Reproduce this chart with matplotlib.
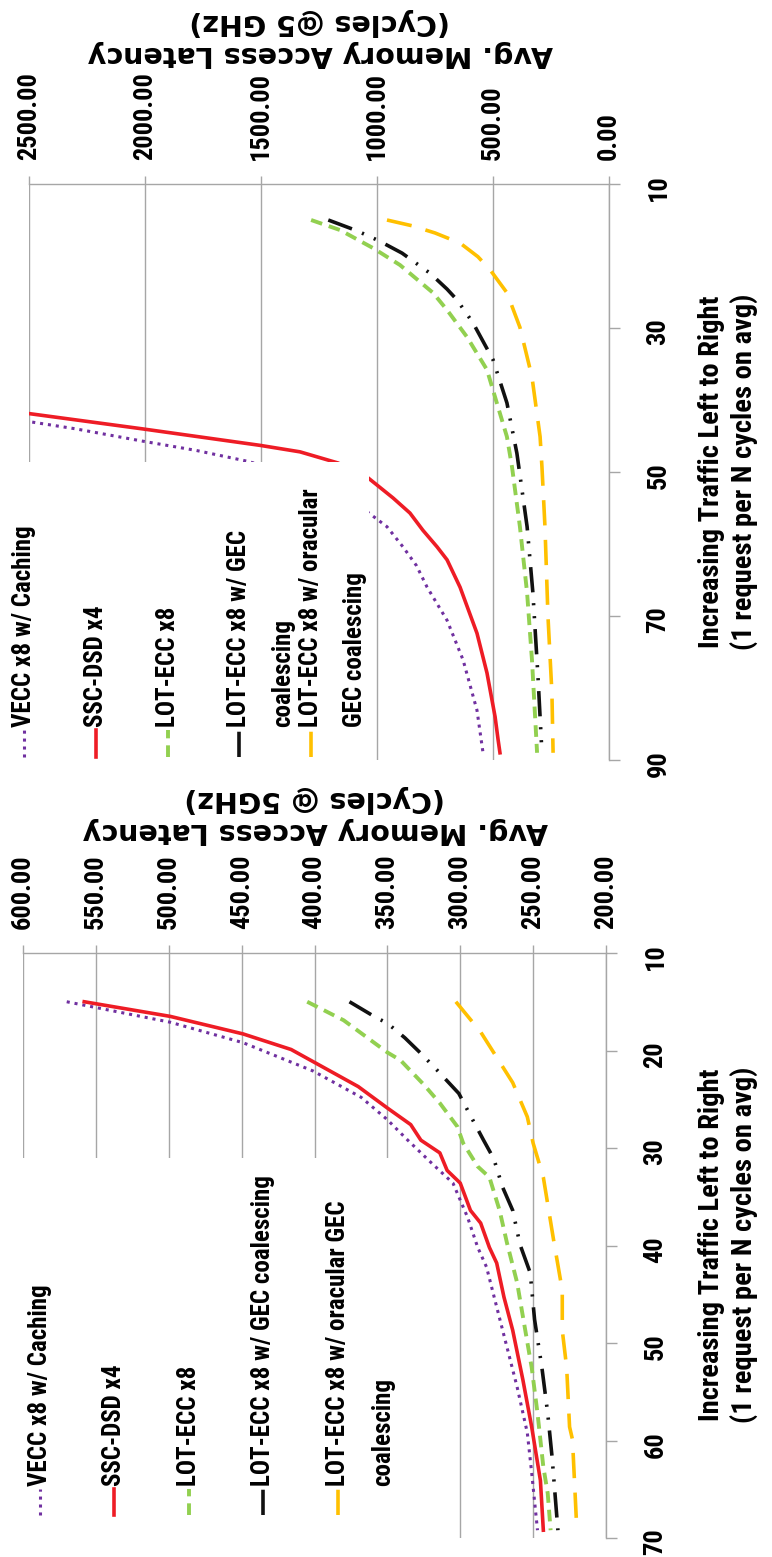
import matplotlib
matplotlib.use("Agg")
import matplotlib.pyplot as plt
from matplotlib.lines import Line2D
from matplotlib.patches import Rectangle

W, H = 772, 1557

# --- upper chart: latency in cycles @5 GHz vs traffic (1 request per N cycles) ---
top_vecc_n = [42.9, 44.0, 45.7, 47.0, 48.5, 50.5, 53.0, 55.6, 57.6, 60.4, 63.0, 66.0, 70.6, 76.1, 83.1, 89.0]
top_vecc = [2520, 2300, 2013, 1780, 1560, 1330, 1150, 1039, 957, 888, 830, 784, 698, 629, 569, 543]

top_ssc_n = [41.8, 44.0, 46.3, 47.2, 48.75, 50.8, 53.6, 55.7, 58.1, 60.4, 62.2, 66.0, 72.4, 77.9, 84.0, 87.2, 89.0]
top_ssc = [2520, 2013, 1504, 1332, 1168, 1039, 931, 858, 802, 741, 698, 642, 569, 526, 491, 478, 470]

top_lot_n = [15.0, 16.4, 18.9, 21.25, 25.1, 27.5, 31.25, 35.8, 39.6, 45.1, 49.3, 57.6, 66.8, 76.1, 89.0]
top_lot = [1284, 1159, 1017, 901, 759, 698, 612, 526, 491, 440, 418, 384, 353, 332, 310]

top_gec_n = [15.0, 16.5, 17.9, 19.6, 22.4, 24.6, 26.1, 29.3, 34.4, 40.4, 47.4, 57.6, 66.8, 78.5, 89.0]
top_gec = [1210, 1086, 991, 892, 771, 698, 655, 586, 500, 440, 397, 353, 328, 306, 289]

top_ora_n = [15.0, 15.8, 16.8, 18.2, 20.1, 21.9, 25.1, 29.9, 36.8, 45.1, 49.3, 57.6, 70.1, 80.7, 89.0]
top_ora = [957, 849, 750, 642, 565, 513, 440, 384, 332, 297, 289, 276, 263, 246, 241]

# --- lower chart: latency in cycles @ 5GHz ---
bot_vecc_n = [15.0, 17.1, 19.2, 22.1, 24.8, 27.1, 29.2, 31.5, 33.6, 37.1, 40.2, 42.2, 46.3, 50.4, 54.5, 59.2, 63.3, 69.2]
bot_vecc = [570, 499, 449, 401, 368, 350, 336, 320, 305, 295, 288, 282, 275, 268, 261, 254, 251, 247]

bot_ssc_n = [15.0, 16.5, 18.3, 19.9, 23.7, 25.9, 27.6, 29.2, 30.5, 32.3, 33.6, 36.4, 37.7, 40.2, 41.8, 45.3, 48.7, 53.8, 58.6, 64.1, 69.2]
bot_ssc = [558, 499, 449, 416, 370, 350, 334, 327, 314, 309, 300, 293, 286, 280, 275, 270, 264, 257, 251, 245, 243]

bot_lot_n = [15.0, 16.9, 20.2, 21.0, 23.5, 25.4, 27.8, 29.5, 31.9, 33.0, 36.4, 39.7, 43.8, 47.3, 52.5, 57.2, 62.7, 65.4, 69.2]
bot_lot = [405, 380, 350, 341, 325, 314, 302, 298, 288, 280, 273, 268, 261, 257, 251, 247, 243, 240, 238]

bot_gec_n = [15.0, 16.6, 17.2, 18.7, 20.3, 22.0, 24.4, 26.4, 29.2, 31.1, 34.0, 36.4, 39.9, 42.8, 47.6, 52.5, 57.2, 61.7, 69.2]
bot_gec = [376, 358, 350, 338, 327, 316, 301, 294, 284, 277, 271, 264, 259, 252, 249, 244, 240, 237, 233]

bot_ora_n = [15.0, 18.1, 20.7, 23.3, 26.8, 29.5, 33.0, 39.4, 44.6, 48.7, 52.5, 58.6, 59.9, 69.2]
bot_ora = [303, 286, 275, 264, 254, 250, 243, 236, 230, 230, 227, 225, 223, 220]

top_labels = ["VECC x8 w/ Caching", "SSC-DSD x4", "LOT-ECC x8",
              "LOT-ECC x8 w/ GEC\ncoalescing", "LOT-ECC x8 w/ oracular\nGEC coalescing"]
bot_labels = ["VECC x8 w/ Caching", "SSC-DSD x4", "LOT-ECC x8",
              "LOT-ECC x8 w/ GEC coalescing", "LOT-ECC x8 w/ oracular GEC\ncoalescing"]

top_xticks = [0, 500, 1000, 1500, 2000, 2500]
top_nticks = [10, 30, 50, 70, 90]
bot_xticks = [200, 250, 300, 350, 400, 450, 500, 550, 600]
bot_nticks = [10, 20, 30, 40, 50, 60, 70]

NARROW = ['Roboto Condensed', 'Roboto', 'DejaVu Sans']
WIDE = ['DejaVu Sans']
GRID = '#A6A6A6'

styles = [
    dict(color='#7030A0', lw=2.2, ls=(0, (1, 1.6))),
    dict(color='#EE1C25', lw=2.6, ls='-'),
    dict(color='#92D050', lw=2.8, ls=(0, (3, 1.8))),
    dict(color='#111111', lw=2.6, ls=(0, (7, 3, 0.6, 3, 0.6, 3))),
    dict(color='#FFC000', lw=2.6, ls=(0, (7, 4))),
]


def fx(px):
    return px / W


def fy(py):
    return 1 - py / H


def px_box(x0, y0, x1, y1):
    return [x0 / W, 1 - y1 / H, (x1 - x0) / W, (y1 - y0) / H]


def style_axes(ax, xlo, xhi, xticks, nmax, nticks):
    ax.set_xlim(xhi, xlo)
    ax.set_ylim(nmax, 10)
    ax.xaxis.tick_top()
    ax.yaxis.tick_right()
    ax.set_xticks(xticks)
    ax.set_xticklabels([f"{v:.2f}" for v in xticks], rotation=90,
                       family=NARROW, fontweight='bold', fontsize=19)
    ax.set_yticks(nticks)
    ax.set_yticklabels([str(v) for v in nticks], rotation=90,
                       family=NARROW, fontweight='bold', fontsize=19)
    ax.tick_params(axis='x', direction='out', length=6, width=1, color=GRID, pad=11)
    ax.tick_params(axis='y', direction='out', length=8, width=1, color=GRID, pad=19)
    ax.grid(axis='x', color=GRID, lw=1)
    ax.set_axisbelow(True)
    for side in ('left', 'bottom'):
        ax.spines[side].set_visible(False)
    for side in ('top', 'right'):
        ax.spines[side].set_color(GRID)
        ax.spines[side].set_linewidth(1)


def draw_legend(fig, labels, xs, line_gap, y_text, y_h0, y_h1, box):
    x0, y0, x1, y1 = box
    fig.add_artist(Rectangle((fx(x0), fy(y1)), (x1 - x0) / W, (y1 - y0) / H,
                             transform=fig.transFigure, facecolor='white',
                             edgecolor='none', zorder=5))
    for lab, x, st in zip(labels, xs, styles):
        fig.add_artist(Line2D([fx(x), fx(x)], [fy(y_h0), fy(y_h1)],
                              transform=fig.transFigure, color=st['color'],
                              lw=st['lw'], ls=st['ls'], zorder=6))
        for i, line in enumerate(lab.split('\n')):
            fig.text(fx(x + i * line_gap), fy(y_text), line, rotation=90,
                     rotation_mode='anchor', ha='left', va='center',
                     family=NARROW, fontweight='bold', fontsize=18, zorder=6)


fig = plt.figure(figsize=(W / 100, H / 100), dpi=100)

ax_top = fig.add_axes(px_box(29, 184, 609, 760))
ax_bot = fig.add_axes(px_box(23, 953, 606, 1538))

top_series = [(top_vecc_n, top_vecc), (top_ssc_n, top_ssc), (top_lot_n, top_lot),
              (top_gec_n, top_gec), (top_ora_n, top_ora)]
bot_series = [(bot_vecc_n, bot_vecc), (bot_ssc_n, bot_ssc), (bot_lot_n, bot_lot),
              (bot_gec_n, bot_gec), (bot_ora_n, bot_ora)]

for ax, series in ((ax_top, top_series), (ax_bot, bot_series)):
    for (n, lat), st in zip(series, styles):
        ax.plot(lat, n, color=st['color'], lw=st['lw'], ls=st['ls'])

style_axes(ax_top, 0, 2500, top_xticks, 90, top_nticks)
style_axes(ax_bot, 200, 600, bot_xticks, 70, bot_nticks)

# axis titles (value axis upside down, traffic axis bottom-to-top)
fig.text(fx(320), fy(38), "Avg. Memory Access Latency\n(Cycles @5 GHz)", rotation=180,
         ha='center', va='center', family=WIDE, fontweight='bold', fontsize=20.5)
fig.text(fx(315), fy(815), "Avg. Memory Access Latency\n(Cycles @ 5GHz)", rotation=180,
         ha='center', va='center', family=WIDE, fontweight='bold', fontsize=20.5)
for yc in (472, 1245):
    fig.text(fx(728), fy(yc), "Increasing Traffic Left to Right\n(1 request per N cycles on avg)",
             rotation=90, ha='center', va='center', family=NARROW, fontweight='bold',
             fontsize=20.5)

draw_legend(fig, top_labels, [24, 96, 168, 239, 311], 44, 727, 757, 730, (0, 462, 369, 775))
draw_legend(fig, bot_labels, [40, 114, 189, 263, 338], 45, 1486, 1515, 1489, (0, 1158, 402, 1557))

fig.savefig("out.png", dpi=100)
